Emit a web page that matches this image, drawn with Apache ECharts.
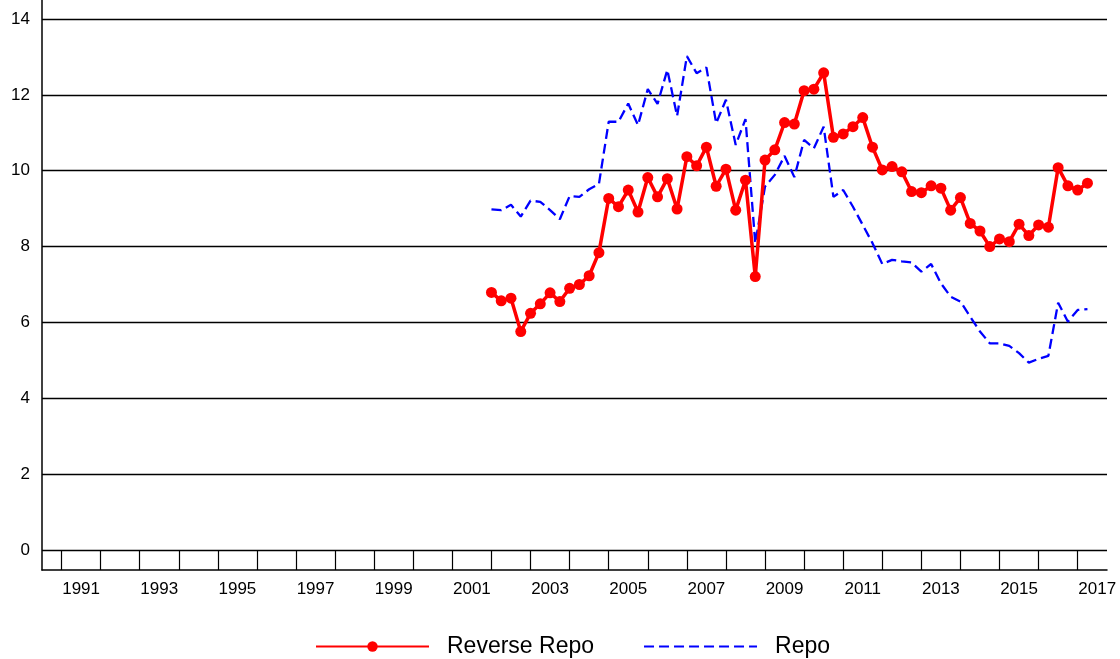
<!DOCTYPE html>
<html>
<head>
<meta charset="utf-8">
<script src="https://cdn.jsdelivr.net/npm/echarts@6/dist/echarts.min.js"></script>
<style>
html,body{margin:0;padding:0;background:#fff;}
#chart{width:1120px;height:659px;}
</style>
</head>
<body>
<div id="chart"></div>
<script>
// Quarterly observation dates (decimal years)
const dates = [
  2002.00,2002.25,2002.50,2002.75,2003.00,2003.25,2003.50,2003.75,
  2004.00,2004.25,2004.50,2004.75,2005.00,2005.25,2005.50,2005.75,
  2006.00,2006.25,2006.50,2006.75,2007.00,2007.25,2007.50,2007.75,
  2008.00,2008.25,2008.50,2008.75,2009.00,2009.25,2009.50,2009.75,
  2010.00,2010.25,2010.50,2010.75,2011.00,2011.25,2011.50,2011.75,
  2012.00,2012.25,2012.50,2012.75,2013.00,2013.25,2013.50,2013.75,
  2014.00,2014.25,2014.50,2014.75,2015.00,2015.25,2015.50,2015.75,
  2016.00,2016.25,2016.50,2016.75,2017.00,2017.25
];
const reverseRepo = [
  6.79,6.57,6.64,5.76,6.24,6.49,6.78,6.55,
  6.90,7.00,7.23,7.84,9.27,9.05,9.49,8.91,
  9.82,9.31,9.79,8.99,10.37,10.13,10.62,9.59,
  10.04,8.96,9.75,7.21,10.28,10.55,11.27,11.23,
  12.11,12.15,12.58,10.88,10.97,11.16,11.40,10.62,
  10.02,10.11,9.97,9.45,9.42,9.60,9.54,8.96,
  9.29,8.61,8.41,8.00,8.20,8.13,8.59,8.29,
  8.57,8.51,10.08,9.60,9.49,9.67
];
const repo = [
  8.98,8.96,9.10,8.79,9.21,9.18,8.96,8.72,
  9.33,9.31,9.51,9.65,11.29,11.29,11.77,11.20,
  12.15,11.76,12.66,11.44,13.02,12.57,12.72,11.25,
  11.87,10.68,11.36,8.09,9.58,9.89,10.39,9.83,
  10.81,10.59,11.16,9.31,9.49,9.05,8.57,8.09,
  7.54,7.65,7.61,7.58,7.34,7.54,7.03,6.68,
  6.55,6.15,5.76,5.45,5.45,5.38,5.19,4.94,
  5.04,5.12,6.52,6.02,6.33,6.35
];
const yearTicks = [1991,1992,1993,1994,1995,1996,1997,1998,1999,2000,2001,2002,2003,2004,2005,2006,2007,2008,2009,2010,2011,2012,2013,2014,2015,2016,2017];
const yearLabels = [1991,1993,1995,1997,1999,2001,2003,2005,2007,2009,2011,2013,2015,2017];
const yTicks = [0,2,4,6,8,10,12,14];

const FONT = 'Liberation Sans, Arial, sans-serif';
const chart = echarts.init(document.getElementById('chart'), null, {renderer:'canvas'});
chart.setOption({
  animation: false,
  backgroundColor: '#ffffff',
  grid: {left: 42, right: 13, top: 0, bottom: 89, containLabel: false},
  legend: {
    left: 315, top: 635, padding: 0,
    itemWidth: 113, itemHeight: 13, itemGap: 49,
    textStyle: {fontFamily: FONT, fontSize: 23, color: '#000', padding: [0,0,0,13]},
    data: [
      {name: 'Reverse Repo'},
      {name: 'Repo', itemStyle: {opacity: 0}}
    ]
  },
  xAxis: {
    type: 'value', min: 1990.5, max: 2017.75,
    axisLine: {show: true, onZero: false, lineStyle: {color: '#000', width: 1.5}},
    axisTick: {show: true, inside: true, length: 20, customValues: yearTicks, lineStyle: {color: '#000', width: 1.2}},
    axisLabel: {
      customValues: yearLabels.map(v => v + 0.5),
      formatter: v => String(Math.floor(v)),
      fontFamily: FONT, fontSize: 17, color: '#000', margin: 11
    },
    splitLine: {show: false}
  },
  yAxis: {
    type: 'value', min: -0.527, max: 14.5,
    axisLine: {show: true, onZero: false, lineStyle: {color: '#000', width: 1.5}},
    axisTick: {show: false, customValues: yTicks},
    axisLabel: {customValues: yTicks, fontFamily: FONT, fontSize: 17, color: '#000', margin: 12},
    splitLine: {show: true, lineStyle: {color: '#000', width: 1.3}}
  },
  series: [
    {
      name: 'Reverse Repo', type: 'line',
      data: dates.map((d, i) => [d, reverseRepo[i]]),
      symbol: 'circle', symbolSize: 11, showSymbol: true,
      lineStyle: {color: '#ff0000', width: 3.5},
      itemStyle: {color: '#ff0000'},
      z: 3
    },
    {
      name: 'Repo', type: 'line',
      data: dates.map((d, i) => [d, repo[i]]),
      symbol: 'none',
      lineStyle: {color: '#0000ff', width: 2.3, type: [10, 5]},
      itemStyle: {color: '#0000ff'},
      z: 2
    }
  ]
});
</script>
</body>
</html>
